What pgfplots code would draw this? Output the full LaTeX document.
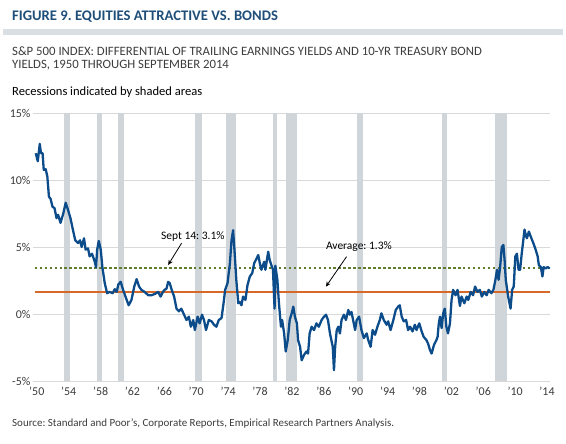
\documentclass[border=0pt]{standalone}
\usepackage{pgfplots}
\pgfplotsset{compat=1.18}
\usepackage{fontspec}
\setmainfont{Carlito}
\usetikzlibrary{arrows.meta}
\definecolor{titleblue}{RGB}{31,78,121}
\definecolor{bandgray}{RGB}{218,223,228}
\definecolor{txtgray}{RGB}{60,60,60}
\definecolor{recgray}{RGB}{208,213,218}
\definecolor{gridgray}{RGB}{217,217,217}
\definecolor{lineblue}{RGB}{12,76,138}
\definecolor{dotgreen}{RGB}{95,125,45}
\definecolor{orangeline}{RGB}{215,105,40}
\frenchspacing
\begin{document}
\begin{tikzpicture}[x=1bp,y=1bp]
\path[use as bounding box] (0,0) rectangle (566,444);
\fill[bandgray] (3,409) rectangle (563,415);
\node[anchor=west,inner sep=0,text=titleblue,font=\bfseries\fontsize{14.7}{17}\selectfont] at (12,427) {FIGURE 9. EQUITIES ATTRACTIVE VS. BONDS};
\node[anchor=west,inner sep=0,text=txtgray,font=\fontsize{12.8}{14}\selectfont] at (12,393) {S\&P 500 INDEX: DIFFERENTIAL OF TRAILING EARNINGS YIELDS AND 10-YR TREASURY BOND};
\node[anchor=west,inner sep=0,text=txtgray,font=\fontsize{12.8}{14}\selectfont] at (12,379) {YIELDS, 1950 THROUGH SEPTEMBER 2014};
\node[anchor=west,inner sep=0,text=black,font=\fontsize{12.6}{14}\selectfont] at (12,352) {Recessions indicated by shaded areas};
\node[anchor=west,inner sep=0,text=txtgray,font=\fontsize{11}{13}\selectfont] at (12,20) {Source: Standard and Poor’s, Corporate Reports, Empirical Research Partners Analysis.};
\begin{axis}[
  at={(33bp,63bp)}, anchor=south west,
  width=517bp, height=268bp, scale only axis,
  xmin=1949.9, xmax=2014.75, ymin=-5, ymax=15,
  axis line style={draw=none},
  major tick length=0pt,
  ymajorgrids, grid style={gridgray, line width=0.8pt},
  ytick={-5,0,5,10,15},
  yticklabels={-5\%,0\%,5\%,10\%,15\%},
  xtick={1950,1954,1958,1962,1966,1970,1974,1978,1982,1986,1990,1994,1998,2002,2006,2010,2014},
  xticklabels={’50,’54,’58,’62,’66,’70,’74,’78,’82,’86,’90,’94,’98,’02,’06,’10,’14},
  ticklabel style={font=\fontsize{12}{14}\selectfont, text=txtgray},
  xticklabel style={xshift=3bp, yshift=-3bp},
  yticklabel style={xshift=1bp},
  clip=false,
]
\addplot[fill=recgray, draw=none] coordinates {(1953.75,-5)(1953.75,15)(1954.6,15)(1954.6,-5)} -- cycle;
\addplot[fill=recgray, draw=none] coordinates {(1957.9,-5)(1957.9,15)(1958.5,15)(1958.5,-5)} -- cycle;
\addplot[fill=recgray, draw=none] coordinates {(1960.5,-5)(1960.5,15)(1961.3,15)(1961.3,-5)} -- cycle;
\addplot[fill=recgray, draw=none] coordinates {(1970.2,-5)(1970.2,15)(1971.1,15)(1971.1,-5)} -- cycle;
\addplot[fill=recgray, draw=none] coordinates {(1974.1,-5)(1974.1,15)(1975.4,15)(1975.4,-5)} -- cycle;
\addplot[fill=recgray, draw=none] coordinates {(1980.0,-5)(1980.0,15)(1980.5,15)(1980.5,-5)} -- cycle;
\addplot[fill=recgray, draw=none] coordinates {(1981.6,-5)(1981.6,15)(1983.0,15)(1983.0,-5)} -- cycle;
\addplot[fill=recgray, draw=none] coordinates {(1990.5,-5)(1990.5,15)(1991.25,15)(1991.25,-5)} -- cycle;
\addplot[fill=recgray, draw=none] coordinates {(2001.2,-5)(2001.2,15)(2001.8,15)(2001.8,-5)} -- cycle;
\addplot[fill=recgray, draw=none] coordinates {(2007.85,-5)(2007.85,15)(2009.3,15)(2009.3,-5)} -- cycle;
\addplot[draw=orangeline, mark=none, line width=1.6pt] coordinates {(1950.1,1.66)(2014.75,1.66)};
\addplot[draw=dotgreen, mark=none, line width=1.7pt, dash pattern=on 2.5pt off 2.5pt] coordinates {(1950.1,3.45)(2014.75,3.45)};
\addplot[lineblue, mark=none, line width=2.3pt, line join=round] table {
1950.25 12.0
1950.5 11.4
1950.75 12.7
1950.9 12.0
1951.1 12.0
1951.25 10.75
1951.5 10.8
1951.7 10.25
1951.9 8.75
1952.1 8.6
1952.35 8.0
1952.6 7.9
1952.85 7.15
1953.05 7.4
1953.35 6.8
1953.7 7.5
1954.0 8.3
1954.3 7.75
1954.6 7.15
1954.9 6.3
1955.2 5.5
1955.55 5.3
1955.8 5.5
1956.0 5.0
1956.3 5.65
1956.5 4.8
1956.8 4.9
1957.0 4.3
1957.3 4.5
1957.65 3.9
1957.8 3.5
1957.95 4.8
1958.15 5.45
1958.4 4.8
1958.6 3.5
1958.9 2.3
1959.2 1.55
1959.5 1.65
1959.9 1.55
1960.15 1.85
1960.4 1.65
1960.6 2.2
1960.9 2.4
1961.2 1.8
1961.5 1.3
1961.9 0.65
1962.25 1.05
1962.6 2.05
1962.9 2.6
1963.2 2.05
1963.5 1.8
1963.9 1.65
1964.35 1.4
1964.75 1.4
1965.2 1.5
1965.6 1.65
1965.9 1.3
1966.2 1.65
1966.4 1.8
1966.65 1.9
1966.85 2.4
1967.05 2.3
1967.3 1.8
1967.6 1.3
1967.9 0.4
1968.2 0.2
1968.5 0.4
1968.85 -0.05
1969.15 -0.45
1969.45 -0.2
1969.7 -0.95
1970.0 -0.45
1970.2 -1.2
1970.55 -0.2
1970.8 -0.7
1971.1 -0.05
1971.35 -0.45
1971.6 -1.2
1971.95 -0.45
1972.3 -0.55
1972.6 -0.8
1972.9 -0.95
1973.2 -0.45
1973.55 -0.3
1973.8 0.8
1974.0 1.8
1974.3 2.3
1974.6 3.8
1974.8 5.5
1975.0 6.25
1975.2 4.5
1975.4 2.55
1975.65 0.8
1975.85 0.9
1976.05 0.65
1976.25 1.3
1976.55 1.05
1976.8 2.15
1977.1 2.8
1977.4 3.05
1977.65 3.8
1977.95 4.15
1978.15 4.4
1978.35 3.8
1978.55 3.3
1978.9 3.9
1979.05 3.3
1979.4 4.65
1979.6 4.0
1979.8 3.65
1980.0 3.3
1980.2 0.4
1980.3 3.6
1980.55 2.55
1980.75 0.8
1981.0 -0.95
1981.15 -0.45
1981.4 -1.45
1981.6 -2.8
1981.85 -1.95
1982.1 -0.45
1982.35 0.05
1982.55 0.55
1982.75 -0.2
1983.0 -0.7
1983.15 -1.95
1983.4 -2.45
1983.6 -3.45
1983.9 -3.05
1984.2 -2.8
1984.4 -2.95
1984.6 -1.45
1984.85 -0.95
1985.15 -1.2
1985.45 -0.7
1985.75 -0.95
1986.1 -0.45
1986.4 -0.2
1986.65 -0.05
1986.9 -0.45
1987.15 -1.45
1987.5 -2.45
1987.65 -4.2
1987.8 -2.45
1988.0 -1.2
1988.2 -0.95
1988.4 -1.45
1988.6 -0.45
1988.9 -0.05
1989.15 -0.45
1989.45 0.3
1989.65 -0.05
1989.85 0.15
1990.05 -0.45
1990.3 -1.2
1990.5 -0.45
1990.8 -0.2
1991.1 -1.2
1991.4 -1.8
1991.75 -1.45
1991.95 -1.95
1992.25 -2.45
1992.5 -1.2
1992.8 -1.55
1993.1 -0.95
1993.4 -0.45
1993.6 0.05
1993.9 -0.45
1994.25 -0.8
1994.45 -0.55
1994.75 -1.2
1995.1 -0.45
1995.4 0.3
1995.7 0.55
1995.9 0.65
1996.15 -0.2
1996.4 -0.55
1996.7 -0.45
1996.95 -1.2
1997.2 -0.95
1997.5 -1.3
1997.8 -0.8
1998.0 -1.2
1998.35 -0.7
1998.65 -1.3
1998.9 -1.7
1999.25 -1.95
1999.45 -2.2
1999.7 -2.7
1999.9 -2.95
2000.2 -2.3
2000.5 -1.95
2000.65 -1.7
2000.8 -0.7
2000.95 -0.2
2001.15 -1.05
2001.35 0.05
2001.55 0.4
2001.75 -0.95
2001.95 -1.45
2002.2 -0.7
2002.4 1.05
2002.6 1.8
2002.9 1.4
2003.15 1.8
2003.45 0.6
2003.65 1.3
2004.0 0.8
2004.3 1.3
2004.5 1.05
2004.8 1.65
2005.1 1.4
2005.35 2.05
2005.65 1.65
2005.95 1.8
2006.2 1.3
2006.5 1.65
2006.8 1.4
2007.05 1.8
2007.4 1.55
2007.65 1.8
2007.9 2.55
2008.1 3.3
2008.3 2.55
2008.5 3.55
2008.7 5.0
2008.9 5.15
2009.05 4.05
2009.2 2.55
2009.5 1.3
2009.8 0.4
2010.0 1.8
2010.2 2.05
2010.4 4.3
2010.6 4.5
2010.8 3.3
2011.0 3.3
2011.2 4.5
2011.4 5.5
2011.55 6.3
2011.7 5.9
2011.85 5.65
2012.1 6.15
2012.35 5.75
2012.65 5.3
2012.95 4.8
2013.2 4.3
2013.35 3.65
2013.6 3.5
2013.8 2.8
2013.95 3.5
2014.2 3.4
2014.45 3.5
2014.7 3.4
};
\node[font=\fontsize{11.5}{13}\selectfont, text=black] at (axis cs:1969.95,5.77) {Sept 14: 3.1\%};
\draw[-{Stealth[length=5bp,width=4.5bp]}, line width=0.8pt] (axis cs:1968.53,5.28) -- (axis cs:1966.85,3.66);
\node[font=\fontsize{11.5}{13}\selectfont, text=black] at (axis cs:1990.78,5.02) {Average: 1.3\%};
\draw[-{Stealth[length=5bp,width=4.5bp]}, line width=0.8pt] (axis cs:1989.23,4.28) -- (axis cs:1986.64,2.04);
\end{axis}
\end{tikzpicture}
\end{document}
